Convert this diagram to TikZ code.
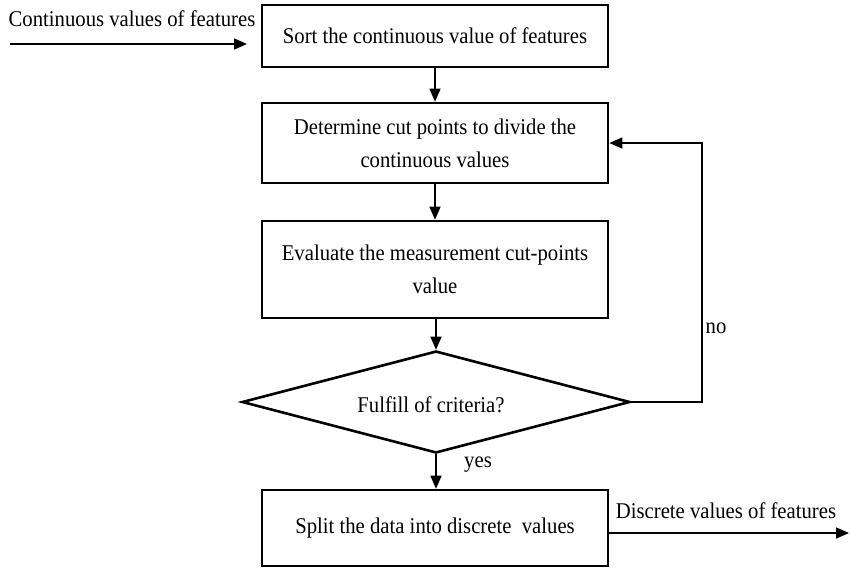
\documentclass[tikz,border=0pt]{standalone}
\usepackage{fontspec}
\setmainfont[FakeStretch=0.92]{Liberation Serif}
\usetikzlibrary{shapes.geometric,arrows.meta}
\begin{document}
\begin{tikzpicture}[x=1pt,y=-1pt,
  every node/.style={font=\fontsize{22.5}{33}\selectfont},
  procbox/.style={draw,line width=2.6pt,rectangle,inner sep=0pt,minimum width=346pt,align=center},
  decbox/.style={draw,line width=2.6pt,diamond,inner sep=0pt,minimum width=388pt,minimum height=102pt},
  conn/.style={line width=1.4pt,-{Triangle[length=13pt,width=11pt]}}]
\useasboundingbox (0,0) rectangle (850,568);
\node[procbox,minimum height=62pt] (b1) at (435,36) {Sort the continuous value of features};
\node[procbox,minimum height=80pt] (b2) at (435,143) {Determine cut points to divide the\\continuous values};
\node[procbox,minimum height=97pt] (b3) at (435,269.5) {Evaluate the measurement cut-points\\value};
\node[decbox] (d) at (436,402) {};
\node (dt) at (431,405) {Fulfill of criteria?};
\node[procbox,minimum height=76pt] (b4) at (435,528) {Split the data into discrete\ \ values};
\coordinate (in) at (10,44);
\coordinate (inend) at (247,44);
\node (intext) at (132,19) {Continuous values of features};
\draw[conn] (in) -- (inend);
\draw[conn] (b1) -- (b2);
\draw[conn] (b2) -- (b3);
\draw[conn] (b3.south -| d.north) -- (d.north);
\draw[conn] (d.south) -- (d.south |- b4.north);
\coordinate (loopb) at (702,402);
\coordinate (loopt) at (702,143);
\draw[conn] (d.east) -- (loopb) -- (loopt) -- (b2.east);
\node (no) at (716,328) {no};
\node (yes) at (478,465) {yes};
\coordinate (out) at (849,533);
\draw[conn] (b4.east |- out) -- (out);
\node (outtext) at (726,511) {Discrete values of features};
\end{tikzpicture}
\end{document}
